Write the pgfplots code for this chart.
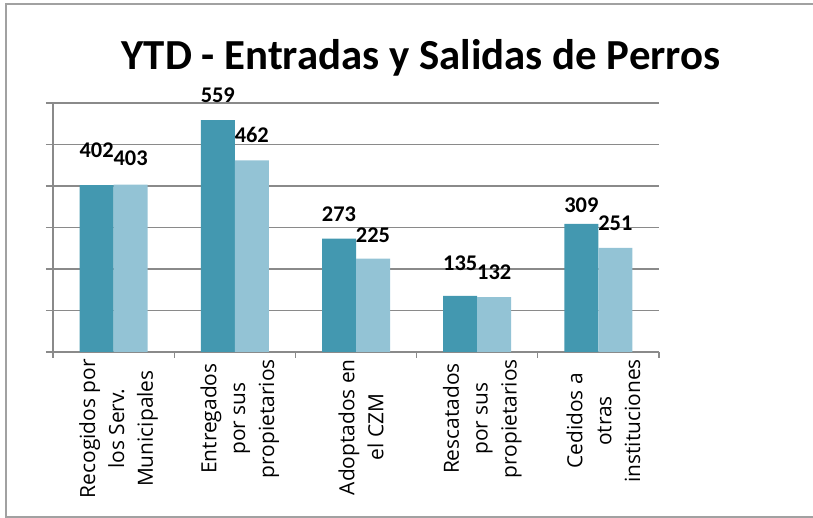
\documentclass[border=0pt]{standalone}
\usepackage{fontspec}
\usepackage{pgfplots}
\usepackage{pgfplotstable}
\pgfplotsset{compat=1.18}
\setmainfont{Carlito}
\newfontfamily\osfont{Open Sans}
\definecolor{darkbar}{HTML}{4398B0}
\definecolor{lightbar}{HTML}{93C3D5}
\definecolor{gridgray}{HTML}{8A8A8A}

\pgfplotstableread{
x y dy
0 402 10
1 559 0
2 273 -1
3 135 7
4 309 -7
}\seriesA
\pgfplotstableread{
x y dy
0 403 1
1 462 0
2 225 -1.5
3 132 0
4 251 -1
}\seriesB

\begin{document}
\begin{tikzpicture}[x=1bp,y=1bp]
\path[use as bounding box] (0,0) rectangle (813,518);
\draw[gridgray!80, line width=1.5bp] (6,1) rectangle (830,514);
\node[font=\bfseries\fontsize{43}{43}\selectfont, anchor=base] at (421,448) {YTD - Entradas y Salidas de Perros};
\begin{axis}[
  at={(53bp,166bp)}, anchor=south west,
  scale only axis,
  width=606bp, height=249bp,
  xmin=-0.5, xmax=4.5,
  ymin=0, ymax=600,
  ybar=0pt, bar width=34bp,
  axis x line*=bottom, axis y line*=left,
  axis line style={gridgray, line width=1.2bp, -},
  xtick={0,1,2,3,4},
  major x tick style={draw=none},
  minor xtick={-0.5,0.5,1.5,2.5,3.5,4.5},
  minor x tick style={gridgray, line width=1.2bp},
  minor tick length=6bp,
  xticklabels={{Recogidos por\\los Serv.\\Municipales},{Entregados\\por sus\\propietarios},{Adoptados en\\el CZM},{Rescatados\\por sus\\propietarios},{Cedidos a\\otras\\instituciones}},
  x tick label style={rotate=90, anchor=east, align=center, font=\osfont\fontsize{21}{29}\selectfont, inner sep=0pt, yshift=-5bp},
  ytick={0,100,...,600},
  yticklabels={},
  ymajorgrids,
  y grid style={gridgray, line width=1.2bp},
  major y tick style={gridgray, line width=1.2bp},
  tick align=outside,
  major tick length=7bp,
  clip=false,
  /pgf/number format/assume math mode=true,
  nodes near coords,
  visualization depends on={\thisrow{dy} \as \dy},
  every node near coord/.append style={font=\bfseries\fontsize{22.5}{22.5}\selectfont, anchor=base, inner sep=0pt, yshift=18bp+\dy bp, black},
]
\addplot[fill=darkbar, draw=none] table[x=x,y=y] {\seriesA};
\addplot[fill=lightbar, draw=none] table[x=x,y=y] {\seriesB};
\end{axis}
\end{tikzpicture}
\end{document}
